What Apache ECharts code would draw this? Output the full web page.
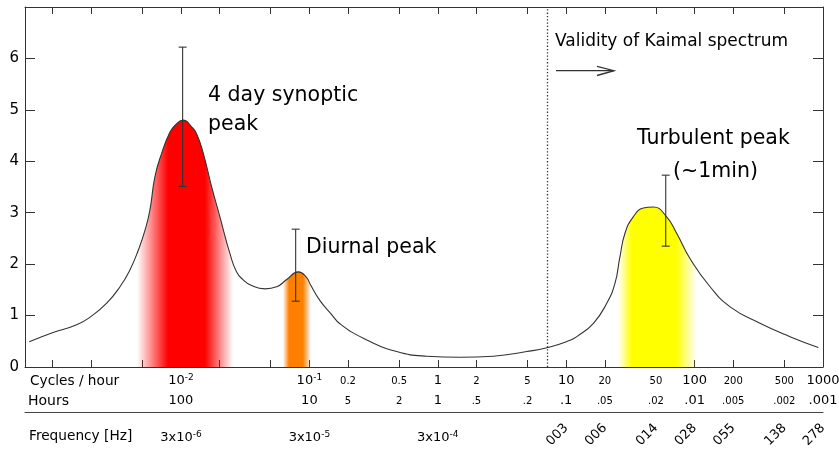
<!DOCTYPE html>
<html><head><meta charset="utf-8">
<script src="https://cdn.jsdelivr.net/npm/echarts@6/dist/echarts.min.js"></script>
<style>html,body{margin:0;padding:0;background:#fff}#c{width:839px;height:450px}</style>
</head><body><div id="c"></div>
<script>
// ---- data (x in cycles per hour, y = spectral energy) ----
const curveX = [0.000658,0.00101,0.00154,0.00201,0.00264,0.00335,0.00401,0.00465,0.00525,0.00573,0.00627,0.00708,0.00811,0.00898,0.0104,0.0121,0.0132,0.0149,0.0173,0.0201,0.0241,0.0272,0.0304,0.0345,0.0451,0.0556,0.0666,0.0819,0.0953,0.101,0.121,0.148,0.173,0.263,0.479,0.820,1.49,2.71,4.92,7.48,10.7,12.1,16.3,20.7,24.0,26.2,28.7,33.3,39.9,47.7,60.6,72.5,92.0,132,189,323,553,919];
const curveY = [0.49,0.67,0.82,0.99,1.24,1.56,1.89,2.27,2.66,3.05,3.70,4.16,4.54,4.70,4.80,4.67,4.54,4.16,3.51,2.92,2.20,1.84,1.70,1.60,1.52,1.56,1.70,1.85,1.74,1.62,1.29,1.03,0.84,0.56,0.30,0.21,0.19,0.21,0.30,0.39,0.52,0.59,0.85,1.24,1.63,2.14,2.60,2.92,3.09,3.11,2.92,2.60,2.11,1.56,1.17,0.85,0.59,0.38];
const errX = [0.0103, 0.0782, 59.6];
const errLow = [3.51, 1.28, 2.35];
const errHigh = [6.22, 2.68, 3.73];
const kaimalLimit = 7.1;
const xRange = [0.00061, 1000];
const yRange = [0, 7];
// band edges: fade-in start, full start, full end, fade-out end (cycles/hour)
const redBand = [0.00454, 0.00793, 0.01538, 0.0254];
const orangeBand = [0.0622, 0.0694, 0.0892, 0.1028];
const yellowBand = [25.3, 32.5, 71.6, 104];
// ticks & labels
const tickValues = [0.001,0.002,0.005,0.01,0.02,0.05,0.1,0.2,0.5,1,2,5,10,20,50,100,200,500,1000];
const majorTicks = [0.01,0.1,1,10,100,1000];
const cycleTicks = [0.01,0.1,0.2,0.5,1,2,5,10,20,50,100,200,500,1000];
const cycleLabels = ['10^-2','10^-1','0.2','0.5','1','2','5','10','20','50','100','200','500','1000'];
const hourLabels = ['100','10','5','2','1','.5','.2','.1','.05','.02','.01','.005','.002','.001'];
const freqTicksA = [0.01,0.1,1];
const freqLabelsA = ['3x10^-6','3x10^-5','3x10^-4'];
const freqTicksB = [10,20,50,100,200,500,1000];
const freqLabelsB = ['003','006','014','028','055','138','278'];

// ---- build ----
const L = v => Math.log10(v);
const FONT = 'DejaVu Sans';
const idx = (arr, v) => arr.findIndex(a => Math.abs(L(a) - v) < 1e-6);
const isMajor = v => idx(majorTicks, L(v)) >= 0;
const rich = {
  b: {fontSize: 13, lineHeight: 16, color: '#000', fontFamily: FONT, verticalAlign: 'middle'},
  s: {fontSize: 10, lineHeight: 16, color: '#000', fontFamily: FONT, verticalAlign: 'middle'},
  sup: {fontSize: 9, lineHeight: 4, color: '#000', fontFamily: FONT, verticalAlign: 'top'}
};
function richLabel(str, big) {
  const p = str.split('^');
  const base = big ? 'b' : 's';
  return p.length > 1 ? '{' + base + '|' + p[0] + '}{sup|' + p[1] + '}' : '{' + base + '|' + str + '}';
}
const xMin = L(xRange[0]), xMax = L(xRange[1]);
const axisColor = '#333';
function baseX(extra) {
  return Object.assign({
    type: 'value', min: xMin, max: xMax, gridIndex: 0,
    splitLine: {show: false},
    axisLine: {show: false, onZero: false, lineStyle: {color: axisColor, width: 1}},
    axisTick: {show: false},
    axisLabel: {show: false}
  }, extra);
}
const curveData = curveX.map((x, i) => [L(x), curveY[i]]);
const first = L(curveX[0]), last = L(curveX[curveX.length - 1]);
const frac = v => Math.min(1, Math.max(0, (L(v) - first) / (last - first)));
const stops = [{offset: 0, color: 'rgba(255,255,255,0)'}];
[[redBand, '255,0,0'], [orangeBand, '255,128,0'], [yellowBand, '255,255,0']].forEach(([b, c]) => {
  stops.push({offset: frac(b[0]), color: 'rgba(' + c + ',0)'});
  stops.push({offset: frac(b[1]), color: 'rgba(' + c + ',1)'});
  stops.push({offset: frac(b[2]), color: 'rgba(' + c + ',1)'});
  stops.push({offset: frac(b[3]), color: 'rgba(' + c + ',0)'});
});
stops.push({offset: 1, color: 'rgba(255,255,255,0)'});

function txt(t, x, y, size, align) {
  return {type: 'text', x: x, y: y, silent: true, z: 100,
    style: {text: t, fill: '#000', font: size + 'px "' + FONT + '"', align: align || 'left', verticalAlign: 'middle',
      textAlign: align || 'left', textVerticalAlign: 'middle'}};
}

const chart = echarts.init(document.getElementById('c'));
chart.setOption({
  animation: false,
  backgroundColor: '#fff',
  textStyle: {fontFamily: FONT},
  grid: {left: 25, right: 16, top: 7, bottom: 83, containLabel: false, outerBoundsMode: 'none'},
  xAxis: [
    baseX({position: 'bottom',
      axisLine: {show: true, onZero: false, lineStyle: {color: axisColor, width: 1}},
      axisTick: {show: true, inside: true, length: 7, customValues: tickValues.map(L), lineStyle: {color: axisColor}},
      axisLabel: {show: true, margin: 6, customValues: cycleTicks.map(L), rich: rich,
        formatter: v => { const i = idx(cycleTicks, v); return i < 0 ? '' : richLabel(cycleLabels[i], isMajor(cycleTicks[i])); }}}),
    baseX({position: 'bottom', offset: 20,
      axisLabel: {show: true, margin: 6, customValues: cycleTicks.map(L), rich: rich,
        formatter: v => { const i = idx(cycleTicks, v); return i < 0 ? '' : richLabel(hourLabels[i], isMajor(cycleTicks[i])); }}}),
    baseX({position: 'bottom', offset: 45,
      axisLine: {show: true, onZero: false, lineStyle: {color: '#444', width: 1.2}},
      axisLabel: {show: true, margin: 18, customValues: freqTicksA.map(L), rich: rich,
        formatter: v => { const i = idx(freqTicksA, v); return i < 0 ? '' : richLabel(freqLabelsA[i], true); }}}),
    baseX({position: 'bottom', offset: 45,
      axisLabel: {show: true, margin: 14, rotate: 45, fontSize: 13, color: '#000', fontFamily: FONT, customValues: freqTicksB.map(L),
        formatter: v => { const i = idx(freqTicksB, v); return i < 0 ? '' : freqLabelsB[i]; }}}),
    baseX({position: 'top',
      axisLine: {show: true, onZero: false, lineStyle: {color: axisColor, width: 1}},
      axisTick: {show: true, inside: true, length: 7, customValues: tickValues.map(L), lineStyle: {color: axisColor}}})
  ],
  yAxis: [
    {type: 'value', position: 'left', min: yRange[0], max: yRange[1], interval: 1,
      splitLine: {show: false},
      axisLine: {show: true, onZero: false, lineStyle: {color: axisColor}},
      axisTick: {show: true, inside: true, length: 10, lineStyle: {color: axisColor}},
      axisLabel: {margin: 6, fontSize: 15, color: '#000', fontFamily: FONT, formatter: v => v === yRange[1] ? '' : String(v)}},
    {type: 'value', position: 'right', min: yRange[0], max: yRange[1], interval: 1,
      splitLine: {show: false},
      axisLine: {show: true, onZero: false, lineStyle: {color: axisColor}},
      axisTick: {show: true, inside: true, length: 10, lineStyle: {color: axisColor}},
      axisLabel: {show: false}}
  ],
  series: [
    {type: 'line', name: 'spectrum', xAxisIndex: 0, yAxisIndex: 0, data: curveData,
      smooth: 0.5, showSymbol: false, symbol: 'none',
      lineStyle: {color: '#333', width: 1.1},
      areaStyle: {opacity: 1, origin: 'start', color: {type: 'linear', x: 0, y: 0, x2: 1, y2: 0, colorStops: stops}},
      markLine: {silent: true, symbol: ['none', 'none'], label: {show: false},
        lineStyle: {type: [1.3, 2], color: '#333', width: 1.3},
        data: [{xAxis: L(kaimalLimit)}]},
      z: 2},
    {type: 'custom', name: 'errors', xAxisIndex: 0, yAxisIndex: 0,
      encode: {x: 0, y: [1, 2]},
      data: errX.map((x, i) => [L(x), errLow[i], errHigh[i]]),
      renderItem: (params, api) => {
        const x = api.value(0);
        const p1 = api.coord([x, api.value(1)]);
        const p2 = api.coord([x, api.value(2)]);
        const w = 4;
        const st = {stroke: '#333', lineWidth: 1.1};
        return {type: 'group', children: [
          {type: 'line', shape: {x1: p1[0], y1: p1[1], x2: p2[0], y2: p2[1]}, style: st},
          {type: 'line', shape: {x1: p1[0] - w, y1: p1[1], x2: p1[0] + w, y2: p1[1]}, style: st},
          {type: 'line', shape: {x1: p2[0] - w, y1: p2[1], x2: p2[0] + w, y2: p2[1]}, style: st}
        ]};
      }, z: 5}
  ],
  graphic: [
    txt('4 day synoptic', 208, 96, 20.5),
    txt('peak', 208, 124.5, 20.5),
    txt('Diurnal peak', 306, 248, 20.5),
    txt('Turbulent peak', 637, 139, 20.5),
    txt('(~1min)', 673, 172, 20.5),
    txt('Validity of Kaimal spectrum', 555, 42, 17),
    txt('Cycles / hour', 30, 381, 13.7),
    txt('Hours', 28, 401, 14),
    txt('Frequency [Hz]', 29, 436, 13.7),
    {type: 'group', silent: true, z: 100, children: [
      {type: 'line', shape: {x1: 556, y1: 70.7, x2: 614, y2: 70.7}, style: {stroke: '#333', lineWidth: 1.3}},
      {type: 'polyline', shape: {points: [[597, 66.3], [614, 70.7], [597, 75.5]]}, style: {stroke: '#333', lineWidth: 1.3, fill: null}}
    ]}
  ]
});
</script>
</body></html>
